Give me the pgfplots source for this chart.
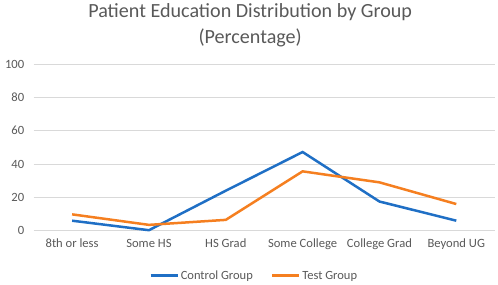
\documentclass[border=0pt]{standalone}
\usepackage{pgfplots}
\pgfplotsset{compat=1.18}
\usepackage{fontspec}
\setmainfont{Carlito}
\definecolor{cblue}{HTML}{1F6FC5}
\definecolor{corange}{HTML}{F57F20}
\definecolor{tgray}{HTML}{595959}
\definecolor{ggray}{HTML}{D9D9D9}
\begin{document}
\begin{tikzpicture}[x=1pt,y=1pt]
\useasboundingbox (0,0) rectangle (498,284);
\begin{axis}[
  at={(33.7pt,53.3pt)}, anchor=south west,
  scale only axis, width=461pt, height=166.7pt,
  xmin=-0.5, xmax=5.5, ymin=0, ymax=100,
  xtick={0,1,2,3,4,5},
  xticklabels={8th or less,Some HS,HS Grad,Some College,College Grad,Beyond UG},
  ytick={0,20,40,60,80,100},
  axis line style={draw=none},
  major tick length=0pt,
  ymajorgrids, grid style={ggray, line width=0.8pt},
  tick label style={font=\fontsize{12.6}{15}\selectfont, text=tgray},
  /pgf/number format/assume math mode=true,
  yticklabel style={xshift=-6pt},
  xticklabel style={yshift=-5pt},
  legend style={at={(0.5,-0.27)}, anchor=center, xshift=-10pt, draw=none, legend columns=2,
    font=\fontsize{12.5}{15}\selectfont, text=tgray,
    /tikz/every even column/.append style={column sep=16pt}},
  legend image code/.code={\draw[#1] (0pt,0pt) -- (27pt,0pt);},
  title style={font=\fontsize{20.1}{26}\selectfont, text=tgray, align=center, at={(0.5,1)}, anchor=south, xshift=-14pt, yshift=8pt},
  title={Patient Education Distribution by Group\\(Percentage)},
  clip=false,
]
\addplot[cblue, line width=2.5pt] coordinates {(0,6) (1,0.3) (2,24) (3,47.2) (4,17.5) (5,6)};
\addlegendentry{Control Group}
\addplot[corange, line width=2.5pt] coordinates {(0,9.8) (1,3.5) (2,6.5) (3,35.6) (4,29) (5,16)};
\addlegendentry{Test Group}
\end{axis}
\end{tikzpicture}
\end{document}
